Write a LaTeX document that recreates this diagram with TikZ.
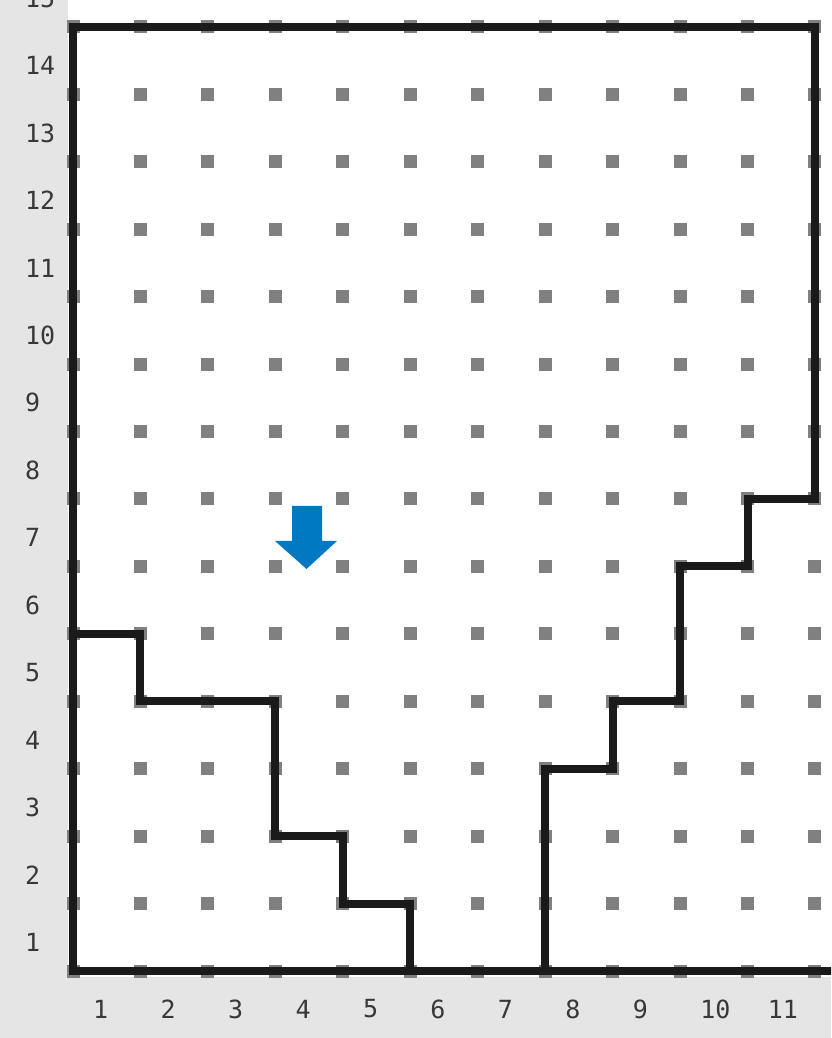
\documentclass[tikz,border=0pt]{standalone}
\usepackage{fontspec}
\setmonofont{DejaVu Sans Mono}
\definecolor{bggray}{HTML}{E5E5E5}
\definecolor{dotc}{HTML}{808080}
\definecolor{linec}{HTML}{1A1A1A}
\definecolor{labc}{HTML}{383838}
\definecolor{arrc}{HTML}{0078C2}
\tikzset{
  wall/.style={draw=linec, line width=8pt, line join=miter},
  dotsq/.style={fill=dotc},
  lab/.style={text=labc, font=\ttfamily\fontsize{25}{25}\selectfont, inner sep=0pt, anchor=west}
}
\begin{document}
\begin{tikzpicture}[x=67.45pt,y=67.43pt]
\useasboundingbox (-1.0823,-0.9936) rectangle (11.238,14.400);
\clip (-1.0823,-0.9936) rectangle (11.238,14.400);
% background
\fill[bggray] (-1.0823,-0.9936) rectangle (11.238,14.400);
\fill[white] (-0.074,-0.089) rectangle (11.238,14.400);
% dots
\foreach \i in {0,...,11}{
  \foreach \j in {0,...,14}{
    \fill[dotsq] (\i,\j) ++(-6.5pt,-6.5pt) rectangle ++(13pt,13pt);
  }
}
% walls
\draw[wall] (11.4,0) -- (0,0) -- (0,14) -- (11,14) -- (11,7) -- (10,7) -- (10,6) -- (9,6) -- (9,4) -- (8,4) -- (8,3) -- (7,3) -- (7,0);
\draw[wall] (0,5) -- (1,5) -- (1,4) -- (3,4) -- (3,2) -- (4,2) -- (4,1) -- (5,1) -- (5,0);
% arrow
\fill[arrc] (3.247,6.896) -- (3.692,6.896) -- (3.692,6.377) -- (3.914,6.377) -- (3.462,5.962) -- (2.995,6.377) -- (3.247,6.377) -- cycle;
% left labels
\foreach \n in {1,...,15}{
  \node[lab] (ly\n) at (-0.712,\n-0.5-0.074) {\n};
}
% bottom labels
\foreach \k in {1,...,11}{
  \node[lab] (lx\k) at (\k-1+0.297,-0.5636) {\k};
}
\end{tikzpicture}
\end{document}
